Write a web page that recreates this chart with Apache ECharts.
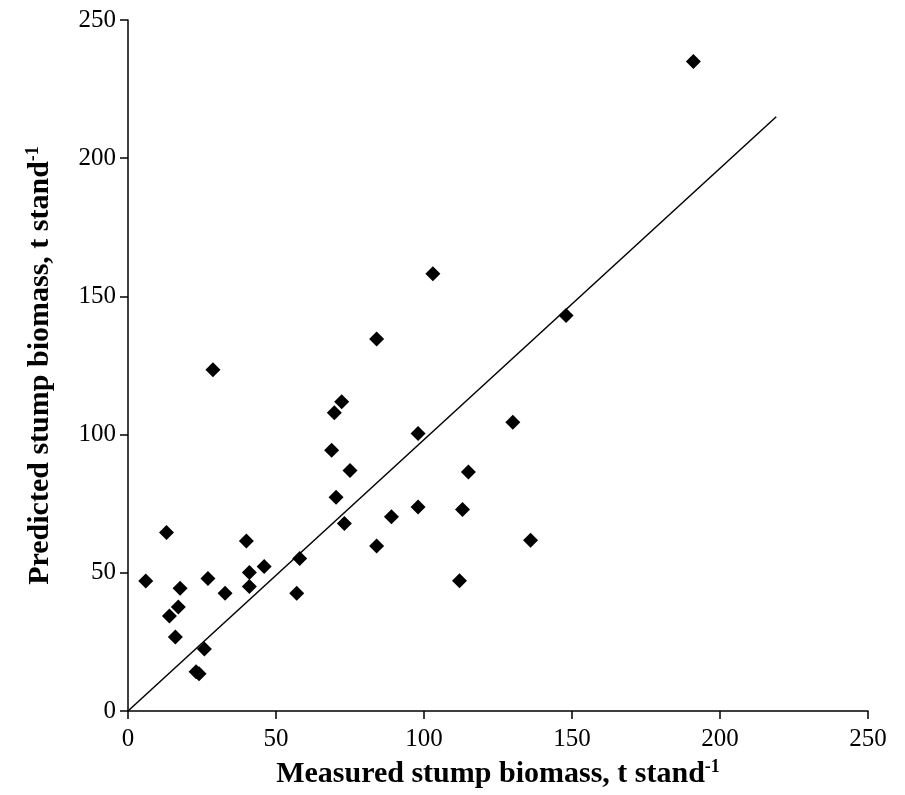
<!DOCTYPE html>
<html>
<head>
<meta charset="utf-8">
<script src="https://cdn.jsdelivr.net/npm/echarts@6/dist/echarts.min.js"></script>
<style>
  html, body { margin: 0; padding: 0; background: #fff; }
  #chart { width: 905px; height: 795px; }
</style>
</head>
<body>
<div id="chart"></div>
<script>
// measured (x) and predicted (y) stump biomass, t stand-1
const measured = [6, 13, 14, 16, 17, 17.6, 23, 24, 25.8, 27, 28.7, 32.8, 40, 41, 41, 46, 57, 58,
  68.8, 69.7, 70.3, 72.2, 73.1, 75, 84, 84, 89, 98, 98, 103, 112, 113, 115, 130, 136, 148, 191];
const predicted = [47, 64.6, 34.4, 26.8, 37.6, 44.4, 14.2, 13.5, 22.4, 47.9, 123.5, 42.6, 61.5, 50.1, 45, 52.3, 42.6, 55.2,
  94.3, 107.9, 77.3, 111.9, 67.8, 87, 134.6, 59.7, 70.3, 100.4, 73.8, 158.2, 47.1, 72.9, 86.5, 104.5, 61.8, 143.1, 235];

// reference line end points
const lineX = [0, 219];
const lineY = [0, 215];

const axisTicks = [0, 50, 100, 150, 200, 250];

const points = measured.map((v, i) => [v, predicted[i]]);
const linePts = lineX.map((v, i) => [v, lineY[i]]);

const chart = echarts.init(document.getElementById("chart"));

const font = "Liberation Serif";

function makeAxis(name, gap) {
  return {
    type: "value",
    min: axisTicks[0],
    max: axisTicks[axisTicks.length - 1],
    interval: axisTicks[1] - axisTicks[0],
    name: name,
    nameLocation: "middle",
    nameGap: gap,
    nameTextStyle: {
      fontFamily: font,
      fontWeight: "bold",
      fontSize: 30,
      color: "#000",
      lineHeight: 32,
      rich: {
        sup: { fontFamily: font, fontWeight: "bold", fontSize: 18, color: "#000", verticalAlign: "top", lineHeight: 32 },
      },
    },
    splitLine: { show: false },
    axisLine: { show: true, onZero: false, lineStyle: { color: "#000", width: 1.5 } },
    axisTick: { show: true, inside: false, length: 8, lineStyle: { color: "#000", width: 1.5 } },
    axisLabel: { fontFamily: font, fontSize: 25, color: "#000", margin: 12 },
  };
}

const xAxis = makeAxis("Measured stump biomass, t stand{sup|-1}", 47);
xAxis.axisLabel.margin = 16;
const yAxis = makeAxis("Predicted stump biomass, t stand{sup|-1}", 72);

chart.setOption({
  animation: false,
  backgroundColor: "#fff",
  grid: { left: 128, right: 37, top: 20, bottom: 83 },
  xAxis: xAxis,
  yAxis: yAxis,
  series: [
    {
      type: "line",
      data: linePts,
      symbol: "none",
      lineStyle: { color: "#000", width: 1.5 },
      z: 1,
    },
    {
      type: "scatter",
      data: points,
      symbol: "diamond",
      symbolSize: 15,
      itemStyle: { color: "#000", opacity: 1 },
      z: 2,
    },
  ],
});
</script>
</body>
</html>
